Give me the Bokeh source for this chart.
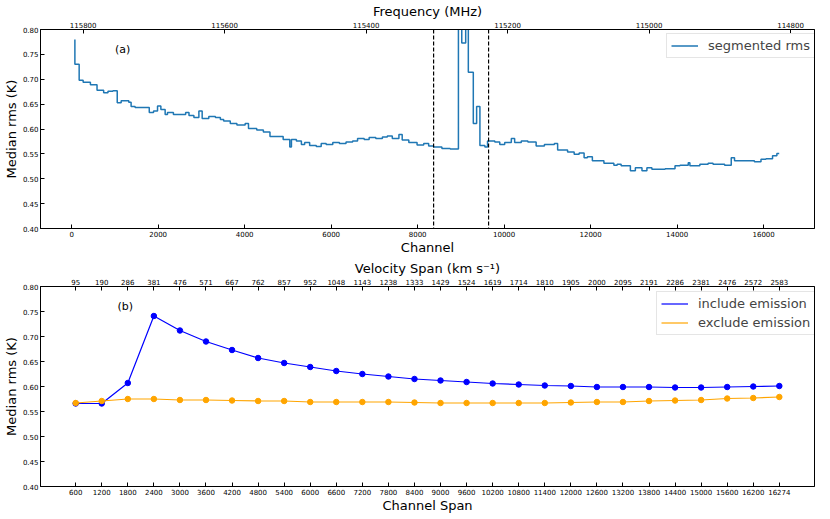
from bokeh.plotting import figure
from bokeh.models import (Range1d, LinearAxis, FixedTicker, Span, Label,
                          PrintfTickFormatter)
from bokeh.layouts import column
from bokeh.embed import file_html
from bokeh.resources import INLINE

# ---------------- data: panel (a) ----------------
# start channel of each constant-rms segment, and its median rms (K)
seg_start_channel = [75, 75, 174, 266, 434, 587, 740, 840, 954, 1054, 1145, 1321, 1375,
                     1467, 1795, 1894, 1986, 2063, 2162, 2216, 2353, 2636, 2713, 2827,
                     2942, 3018, 3171, 3324, 3439, 3515, 3668, 3821, 4012, 4089, 4280,
                     4433, 4586, 4891, 5044, 5082, 5197, 5312, 5388, 5503,
                     5656, 5770, 5885, 6038, 6191, 6344, 6497, 6611, 6764, 6879, 7032,
                     7185, 7299, 7414, 7567, 7643, 7796, 7987, 8140, 8255, 8370, 8561,
                     8752, 8943, 9020, 9111, 9172, 9287, 9364, 9440, 9555, 9616, 9784,
                     9899, 10013, 10166, 10243, 10396, 10549, 10740, 10931,
                     11161, 11237, 11467, 11619, 11734, 11849, 11925, 12040, 12307,
                     12537, 12613, 12705, 12919, 13034, 13187, 13301, 13416, 13722,
                     13951, 14066, 14257, 14295, 14525, 14716, 14830, 15098, 15251,
                     15327, 15786, 15939, 16054, 16206, 16306]
seg_rms = [0.780, 0.730, 0.698, 0.694, 0.689, 0.678, 0.673, 0.676, 0.677, 0.653, 0.657,
           0.654, 0.645, 0.643, 0.633, 0.636, 0.646, 0.639, 0.629, 0.633, 0.629, 0.633,
           0.627, 0.623, 0.636, 0.621, 0.625, 0.623, 0.619, 0.616, 0.611, 0.608, 0.611,
           0.601, 0.598, 0.594, 0.585, 0.579, 0.564, 0.579, 0.576, 0.569, 0.573, 0.567,
           0.565, 0.571, 0.569, 0.573, 0.571, 0.574, 0.576, 0.581, 0.579, 0.583, 0.581,
           0.584, 0.586, 0.581, 0.589, 0.578, 0.573, 0.568, 0.571, 0.566, 0.564, 0.561,
           0.560, 1.000, 0.773, 1.000, 0.714, 0.611, 0.645, 0.567, 0.564, 0.576, 0.574,
           0.569, 0.573, 0.581, 0.573, 0.576, 0.574, 0.566, 0.569,
           0.571, 0.558, 0.554, 0.549, 0.552, 0.542, 0.544, 0.536, 0.531,
           0.527, 0.529, 0.526, 0.516, 0.522, 0.516, 0.522, 0.519, 0.520,
           0.526, 0.527, 0.532, 0.526, 0.529, 0.531, 0.529, 0.527, 0.542,
           0.536, 0.534, 0.539, 0.540, 0.546, 0.551]
spectrum_end_channel = 16360
emission_window = [8369, 9640]
channel_ticks = [0, 2000, 4000, 6000, 8000, 10000, 12000, 14000, 16000]

# frequency axis: reference channel / frequency and channel width
freq_ref_channel = 266
freq_ref_mhz = 115800.0
chan_width_mhz = 0.06114
freq_ticks = [115800, 115600, 115400, 115200, 115000, 114800]

# ---------------- data: panel (b) ----------------
channel_span_labels = ["600", "1200", "1800", "2400", "3000", "3600", "4200", "4800",
                       "5400", "6000", "6600", "7200", "7800", "8400", "9000", "9600",
                       "10200", "10800", "11400", "12000", "12600", "13200", "13800",
                       "14400", "15000", "15600", "16200", "16274"]
velocity_span_labels = ["95", "190", "286", "381", "476", "571", "667", "762", "857",
                        "952", "1048", "1143", "1238", "1333", "1429", "1524", "1619",
                        "1714", "1810", "1905", "2000", "2095", "2191", "2286", "2381",
                        "2476", "2572", "2583"]
include_emission = [0.566, 0.566, 0.607, 0.741, 0.712, 0.690, 0.673, 0.657, 0.647,
                    0.639, 0.631, 0.625, 0.620, 0.615, 0.612, 0.609, 0.606, 0.604,
                    0.602, 0.601, 0.599, 0.599, 0.599, 0.598, 0.598, 0.599, 0.600, 0.601]
exclude_emission = [0.567, 0.571, 0.575, 0.575, 0.573, 0.573, 0.572, 0.571, 0.571,
                    0.569, 0.569, 0.569, 0.569, 0.568, 0.567, 0.567, 0.567, 0.567,
                    0.567, 0.568, 0.569, 0.569, 0.571, 0.572, 0.573, 0.576, 0.577, 0.579]

FONT = "DejaVu Sans"
y_ticks = [0.40, 0.45, 0.50, 0.55, 0.60, 0.65, 0.70, 0.75, 0.80]


def chan_to_freq(ch):
    return freq_ref_mhz - (ch - freq_ref_channel) * chan_width_mhz


def style(p):
    p.xgrid.visible = False
    p.ygrid.visible = False
    p.outline_line_color = "black"
    p.outline_line_width = 1
    p.background_fill_color = "white"
    p.border_fill_color = "white"
    for ax in p.axis:
        ax.major_tick_in = 4
        ax.major_tick_out = 0
        ax.minor_tick_in = 0
        ax.minor_tick_out = 0
        ax.major_tick_line_color = "black"
        ax.axis_line_color = "black"
        ax.major_label_text_font = FONT
        ax.major_label_text_font_size = "7px"
        ax.major_label_text_color = "black"
        ax.major_label_standoff = 2
        ax.axis_label_text_font = FONT
        ax.axis_label_text_font_size = "13px"
        ax.axis_label_text_font_style = "normal"
        ax.axis_label_text_color = "black"
        ax.axis_label_standoff = 0
    p.yaxis.ticker = FixedTicker(ticks=y_ticks)
    p.yaxis.formatter = PrintfTickFormatter(format="%.2f")
    p.yaxis.major_label_standoff = 2
    p.yaxis.axis_label_standoff = 1


def style_legend(p, loc):
    lg = p.legend[0]
    lg.location = loc
    lg.margin = 0
    lg.padding = 4
    lg.spacing = 4
    lg.label_standoff = 10
    lg.glyph_width = 27
    lg.glyph_height = 15
    lg.label_height = 15
    lg.label_text_font = FONT
    lg.label_text_font_size = "13px"
    lg.border_line_color = "#cccccc"
    lg.border_line_width = 1
    lg.background_fill_alpha = 0.8


# ---------------- panel (a) ----------------
x_lo, x_hi = -720, 17176
p1 = figure(width=822, frame_height=199, x_range=Range1d(x_lo, x_hi),
            y_range=Range1d(0.40, 0.80),
            output_backend="svg", toolbar_location=None,
            min_border_left=34, min_border_right=8, min_border_top=0, min_border_bottom=0,
            x_axis_label="Channel", y_axis_label="Median rms (K)")
p1.below[0].ticker = FixedTicker(ticks=channel_ticks)
p1.extra_x_ranges = {"freq": Range1d(start=chan_to_freq(x_lo), end=chan_to_freq(x_hi))}
top_ax = LinearAxis(x_range_name="freq", axis_label="Frequency (MHz)",
                    ticker=FixedTicker(ticks=freq_ticks),
                    formatter=PrintfTickFormatter(format="%d"))
p1.add_layout(top_ax, "above")

xs = list(seg_start_channel) + [spectrum_end_channel]
ys = list(seg_rms) + [seg_rms[-1]]
p1.step(xs, ys, mode="after", line_color="#1f77b4", line_width=1.5,
        legend_label="segmented rms")
for loc in emission_window:
    p1.add_layout(Span(location=loc, dimension="height", line_color="black",
                       line_dash="4 2", line_width=1.2))
p1.add_layout(Label(x=1000, y=0.76, text="(a)", text_font=FONT, text_font_size="11px",
                    text_color="black", text_baseline="alphabetic"))
style(p1)
style_legend(p1, (626, 170))

# ---------------- panel (b) ----------------
idx = list(range(len(channel_span_labels)))
p2 = figure(width=822, frame_height=200, x_range=Range1d(-1.35, len(idx) - 1 + 1.35),
            y_range=Range1d(0.40, 0.80), output_backend="svg", toolbar_location=None,
            min_border_left=34, min_border_right=8, min_border_top=0, min_border_bottom=0,
            x_axis_label="Channel Span", y_axis_label="Median rms (K)")
p2.below[0].ticker = FixedTicker(ticks=idx)
p2.below[0].major_label_overrides = {i: s for i, s in zip(idx, channel_span_labels)}
top_ax2 = LinearAxis(axis_label="Velocity Span (km s\u207b\u00b9)", ticker=FixedTicker(ticks=idx))
top_ax2.major_label_overrides = {i: s for i, s in zip(idx, velocity_span_labels)}
p2.add_layout(top_ax2, "above")

p2.line(idx, include_emission, line_color="blue", line_width=1.2, legend_label="include emission")
p2.scatter(idx, include_emission, size=5.5, color="blue")
p2.line(idx, exclude_emission, line_color="orange", line_width=1.2, legend_label="exclude emission")
p2.scatter(idx, exclude_emission, size=5.5, color="orange")
p2.add_layout(Label(x=1.6, y=0.76, text="(b)", text_font=FONT, text_font_size="11px",
                    text_color="black", text_baseline="alphabetic"))
style(p2)
style_legend(p2, (616, 151))

layout = column(p1, p2, spacing=0)
open("out.html", "w").write(file_html(layout, INLINE))
